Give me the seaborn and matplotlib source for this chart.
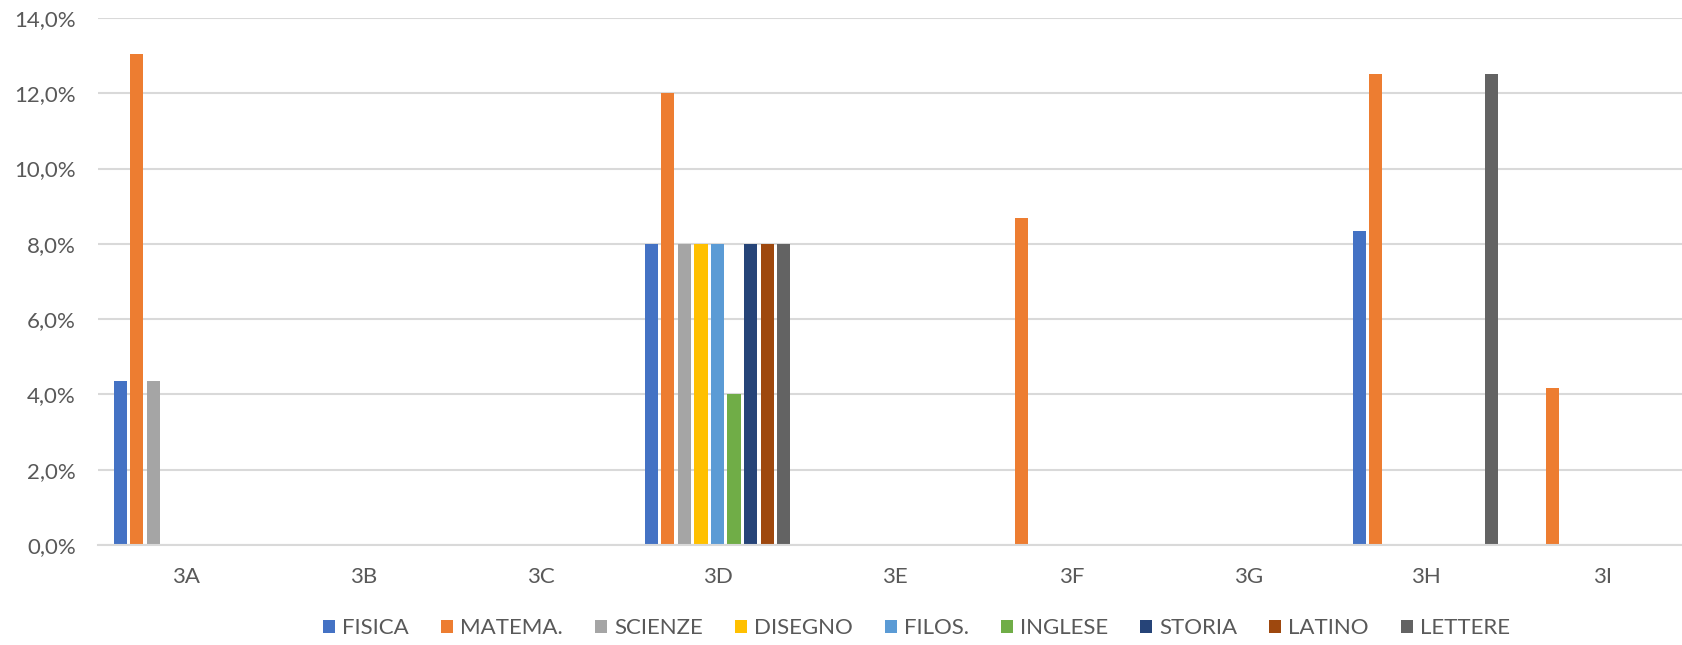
import seaborn as sns
import matplotlib.pyplot as plt
import pandas as pd
from matplotlib.ticker import FuncFormatter

classes = ["3A", "3B", "3C", "3D", "3E", "3F", "3G", "3H", "3I"]
subjects = ["FISICA", "MATEMA.", "SCIENZE", "DISEGNO", "FILOS.", "INGLESE", "STORIA", "LATINO", "LETTERE"]
colors = ["#4472C4", "#ED7D31", "#A5A5A5", "#FFC000", "#5B9BD5", "#70AD47", "#264478", "#9E480E", "#636363"]

# percent values per subject, one entry per class
fisica = [4.35, 0, 0, 8.0, 0, 0, 0, 8.33, 0]
matema = [13.04, 0, 0, 12.0, 0, 8.7, 0, 12.5, 4.17]
scienze = [4.35, 0, 0, 8.0, 0, 0, 0, 0, 0]
disegno = [0, 0, 0, 8.0, 0, 0, 0, 0, 0]
filos = [0, 0, 0, 8.0, 0, 0, 0, 0, 0]
inglese = [0, 0, 0, 4.0, 0, 0, 0, 0, 0]
storia = [0, 0, 0, 8.0, 0, 0, 0, 0, 0]
latino = [0, 0, 0, 8.0, 0, 0, 0, 0, 0]
lettere = [0, 0, 0, 8.0, 0, 0, 0, 12.5, 0]

series = [fisica, matema, scienze, disegno, filos, inglese, storia, latino, lettere]
rows = []
for subj, vals in zip(subjects, series):
    for c, v in zip(classes, vals):
        rows.append({"classe": c, "materia": subj, "valore": v})
df = pd.DataFrame(rows)

sns.set_style("white")
plt.rcParams["font.family"] = ["Lato", "DejaVu Sans"]
txt = "#595959"

fig = plt.figure(figsize=(16.83, 6.45), dpi=100)
# plot area runs a little past the right edge, as in the reference crop
ax = fig.add_axes([98 / 1683, 100 / 645, (1691 - 98) / 1683, (545 - 18) / 645])

sns.barplot(data=df, x="classe", y="valore", hue="materia", hue_order=subjects,
            palette=colors, saturation=1, width=0.842, gap=0.2, linewidth=0,
            ax=ax, legend=True)

ax.set_xlim(-0.5, len(classes) - 0.5)
ax.set_ylim(0, 14)
ax.set_yticks(range(0, 15, 2))
ax.yaxis.set_major_formatter(FuncFormatter(lambda v, p: f"{v:.1f}%".replace(".", ",")))
ax.yaxis.grid(True, color="#D9D9D9", linewidth=1.5)
ax.set_axisbelow(True)
for s in ["top", "right", "left"]:
    ax.spines[s].set_visible(False)
ax.spines["bottom"].set_color("#D9D9D9")
ax.spines["bottom"].set_linewidth(1.5)
ax.tick_params(axis="both", length=0, labelsize=16, labelcolor=txt)
ax.tick_params(axis="x", pad=16)
ax.tick_params(axis="y", pad=16)
ax.set_xlabel("")
ax.set_ylabel("")

handles, labels = ax.get_legend_handles_labels()
ax.legend(handles, labels, loc="center", bbox_to_anchor=(0.5 + 22 / 1593, -0.158), ncol=9,
          frameon=False, fontsize=16, labelcolor=txt, handlelength=0.55, handleheight=0.55,
          handletextpad=0.3, columnspacing=1.45)

fig.savefig("out.png", dpi=100)
